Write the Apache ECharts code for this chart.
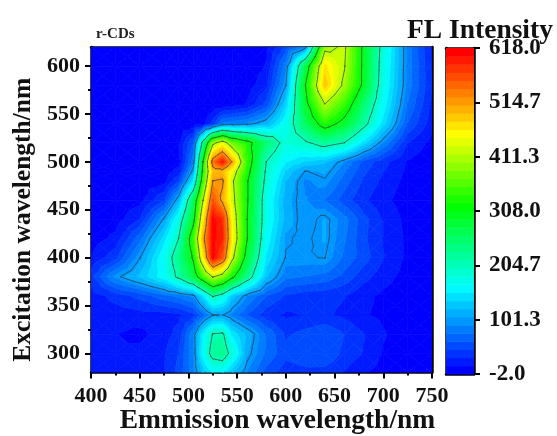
<!DOCTYPE html>
<html>
<head>
<meta charset="utf-8">
<style>html,body{margin:0;background:#fff}#main{width:557px;height:436px}</style>
<script src="https://cdn.jsdelivr.net/npm/echarts@6/dist/echarts.min.js"></script>
</head>
<body>
<div id="main"></div>
<script>
// values
const emission = [400,425,450,475,490,505,515,525,535,545,560,580,600,620,640,660,680,700,725,750]
const excitation = [280,300,320,340,360,380,400,420,440,460,480,490,500,520,540,560,580,600,620]
const intensity = [
  [15,20,22,28,50,85,125,155,155,125,90,55,35,40,38,28,15,8,3,1],
  [15,14,18,28,45,88,165,225,235,185,110,72,50,55,60,40,28,12,4,2],
  [15,14,9,22,35,90,155,207,212,150,118,75,42,50,58,45,30,15,5,2],
  [18,20,22,22,25,40,70,100,102,85,60,35,26,30,32,25,15,10,4,2],
  [20,35,50,70,80,95,145,210,185,130,92,60,42,36,34,30,18,10,4,2],
  [40,95,125,165,215,275,350,415,385,320,235,125,80,75,70,55,35,20,7,2],
  [15,40,100,170,235,315,460,610,560,425,285,150,100,100,102,72,52,30,10,3],
  [5,18,70,145,205,345,500,610,590,460,312,165,103,98,108,78,48,28,10,3],
  [2,5,30,105,175,290,460,610,585,450,310,175,115,92,108,82,50,28,8,3],
  [1,3,8,45,115,260,411,560,505,430,315,175,112,92,75,52,32,18,5,2],
  [0,1,3,8,45,150,345,515,520,420,315,190,122,88,98,68,42,25,8,2],
  [0,0,1,5,20,110,325,490,495,445,330,197,135,100,110,78,48,30,10,3],
  [0,0,1,4,8,85,310,540,600,510,345,204,155,135,125,90,55,35,12,3],
  [0,0,0,5,12,60,225,395,440,375,330,250,185,198,225,205,145,90,30,8],
  [0,0,0,0,1,2,8,35,80,85,92,115,170,260,335,290,220,145,60,20],
  [0,0,0,0,0,0,0,0,3,6,15,50,135,290,410,345,250,165,75,25],
  [0,0,0,0,0,0,0,0,0,2,5,25,101,308,490,400,295,175,85,30],
  [0,0,0,0,0,0,0,0,0,0,2,15,85,270,470,415,295,180,85,28],
  [0,0,0,0,0,0,0,0,0,0,1,10,50,90,395,420,295,185,85,25]
]
const xTicks = [400,450,500,550,600,650,700,750]
const xMinorTicks = [425,475,525,575,625,675,725]
const yTicks = [300,350,400,450,500,550,600]
const yMinorTicks = [325,375,425,475,525,575]
const colorTicks = [-2,101.3,204.7,308,411.3,514.7,618]
const contourLevels = [101.3,204.7,308,411.3,514.7]
const bandCount = 40
const valueMin = -2
const valueMax = 618
const ramp = [[0,0,255],[0,255,255],[0,255,0],[255,255,0],[255,0,0]]
const rampStops = [-2,160,318,458,618]

const serif = '"Liberation Serif"'
const bandSize = (valueMax - valueMin) / bandCount

function bandColor(k) {
  let v = valueMin + k / (bandCount - 1) * (valueMax - valueMin)
  let i = 0
  while (i < rampStops.length - 2 && v > rampStops[i + 1]) i++
  let t = (v - rampStops[i]) / (rampStops[i + 1] - rampStops[i])
  let c = ramp[i].map((a, n) => Math.round(a + (ramp[i + 1][n] - a) * t))
  return 'rgb(' + c.join(',') + ')'
}

// cut a polygon [[x,y,v],...] to the part on one side of a level
function clip(poly, level, keepAbove) {
  let out = []
  for (let i = 0; i < poly.length; i++) {
    let a = poly[i], b = poly[(i + 1) % poly.length]
    let ain = keepAbove ? a[2] >= level : a[2] <= level
    let bin = keepAbove ? b[2] >= level : b[2] <= level
    if (ain) out.push(a)
    if (ain !== bin) {
      let t = (level - a[2]) / (b[2] - a[2])
      out.push([a[0] + (b[0] - a[0]) * t, a[1] + (b[1] - a[1]) * t, level])
    }
  }
  return out
}

// one cell as four triangles around its mean value
function cellTriangles(i, j, api) {
  let corner = (m, n) => {
    let p = api.coord([emission[m], excitation[n]])
    return [p[0], p[1], intensity[n][m]]
  }
  let a = corner(i, j), b = corner(i + 1, j), c = corner(i + 1, j + 1), d = corner(i, j + 1)
  let mid = [(a[0] + c[0]) / 2, (a[1] + c[1]) / 2, (a[2] + b[2] + c[2] + d[2]) / 4]
  return [[a, b, mid], [b, c, mid], [c, d, mid], [d, a, mid]]
}

function renderBands(params, api) {
  let tris = cellTriangles(api.value(2), api.value(3), api)
  let children = []
  tris.forEach(tri => {
    let vals = tri.map(p => p[2])
    let lo = Math.min.apply(null, vals), hi = Math.max.apply(null, vals)
    for (let k = 0; k < bandCount; k++) {
      let bottom = valueMin + k * bandSize, top = bottom + bandSize
      if (hi < bottom || lo > top) continue
      let poly = clip(clip(tri, bottom, true), top, false)
      if (poly.length < 3) continue
      let color = bandColor(k)
      children.push({
        type: 'polygon',
        silent: true,
        shape: { points: poly.map(p => [p[0], p[1]]) },
        style: { fill: color, stroke: color, lineWidth: 0.7 }
      })
    }
  })
  return { type: 'group', children: children }
}

function renderLines(params, api) {
  let tris = cellTriangles(api.value(2), api.value(3), api)
  let children = []
  tris.forEach(tri => {
    contourLevels.forEach(level => {
      let pts = []
      for (let i = 0; i < 3; i++) {
        let a = tri[i], b = tri[(i + 1) % 3]
        if ((a[2] < level) !== (b[2] < level)) {
          let t = (level - a[2]) / (b[2] - a[2])
          pts.push([a[0] + (b[0] - a[0]) * t, a[1] + (b[1] - a[1]) * t])
        }
      }
      if (pts.length === 2) {
        children.push({
          type: 'line',
          silent: true,
          shape: { x1: pts[0][0], y1: pts[0][1], x2: pts[1][0], y2: pts[1][1] },
          style: { stroke: 'rgba(50,60,60,0.75)', lineWidth: 0.9, lineCap: 'round' }
        })
      }
    })
  })
  return { type: 'group', children: children }
}

function renderColorBand(params, api) {
  let k = api.value(0)
  let p0 = api.coord([0, valueMin + k * bandSize])
  let p1 = api.coord([1, valueMin + (k + 1) * bandSize])
  return {
    type: 'rect',
    silent: true,
    shape: { x: p0[0], y: p1[1], width: p1[0] - p0[0], height: p0[1] - p1[1] + 0.5 },
    style: { fill: bandColor(k) }
  }
}

let cells = []
for (let j = 0; j < excitation.length - 1; j++) {
  for (let i = 0; i < emission.length - 1; i++) {
    cells.push([emission[i], excitation[j], i, j])
  }
}
let bands = []
for (let k = 0; k < bandCount; k++) bands.push([k])

const blackLine = { show: true, onZero: false, lineStyle: { color: '#000', width: 2.5 } }
const tickLabel = { fontFamily: serif, fontWeight: 'bold', fontSize: 22, color: '#111' }

let chart = echarts.init(document.getElementById('main'), null, { renderer: 'canvas' })
chart.setOption({
  backgroundColor: '#fff',
  animation: false,
  title: [
    { text: 'r-CDs', left: 91, top: 22, textStyle: { fontFamily: serif, fontWeight: 'bold', fontSize: 15, color: '#222' } },
    { text: 'FL Intensity', left: 402, top: 12, textStyle: { fontFamily: serif, fontWeight: 'bold', fontSize: 27.5, color: '#111' } }
  ],
  grid: [
    { left: 91, right: 125, top: 47, bottom: 63.5, outerBoundsMode: 'none' },
    { left: 446, width: 28, top: 48, bottom: 62, outerBoundsMode: 'none' }
  ],
  xAxis: [
    {
      gridIndex: 0, type: 'value', min: 400, max: 750, position: 'bottom',
      name: 'Emmission wavelength/nm', nameLocation: 'middle', nameGap: 34, nameMoveOverlap: false,
      nameTextStyle: { fontFamily: serif, fontWeight: 'bold', fontSize: 27.5, color: '#111', padding: [0, 0, 0, 32] },
      axisLine: blackLine,
      axisTick: { show: true, customValues: xTicks, length: 6, lineStyle: { color: '#000', width: 2 } },
      axisLabel: Object.assign({ customValues: xTicks, margin: 13, showMinLabel: true, showMaxLabel: true, hideOverlap: false }, tickLabel),
      splitLine: { show: false }
    },
    {
      gridIndex: 0, type: 'value', min: 400, max: 750, position: 'bottom',
      axisLine: { show: false },
      axisTick: { show: true, customValues: xMinorTicks, length: 3, lineStyle: { color: '#000', width: 2 } },
      axisLabel: { show: false }, splitLine: { show: false }
    },
    {
      gridIndex: 0, type: 'value', min: 400, max: 750, position: 'top',
      axisLine: blackLine, axisTick: { show: false }, axisLabel: { show: false }, splitLine: { show: false }
    },
    {
      gridIndex: 1, type: 'value', min: 0, max: 1, position: 'top',
      axisLine: blackLine, axisTick: { show: false }, axisLabel: { show: false }, splitLine: { show: false }
    },
    {
      gridIndex: 1, type: 'value', min: 0, max: 1, position: 'bottom',
      axisLine: blackLine, axisTick: { show: false }, axisLabel: { show: false }, splitLine: { show: false }
    }
  ],
  yAxis: [
    {
      gridIndex: 0, type: 'value', min: 280, max: 620, position: 'left',
      name: 'Excitation wavelength/nm', nameLocation: 'middle', nameGap: 53,
      nameTextStyle: { fontFamily: serif, fontWeight: 'bold', fontSize: 25.5, color: '#111', padding: [0, 20, 0, 0] },
      axisLine: blackLine,
      axisTick: { show: true, customValues: yTicks, length: 6, lineStyle: { color: '#000', width: 2 } },
      axisLabel: Object.assign({ customValues: yTicks, margin: 11, hideOverlap: false }, tickLabel),
      splitLine: { show: false }
    },
    {
      gridIndex: 0, type: 'value', min: 280, max: 620, position: 'left',
      axisLine: { show: false },
      axisTick: { show: true, customValues: yMinorTicks, length: 3, lineStyle: { color: '#000', width: 2 } },
      axisLabel: { show: false }, splitLine: { show: false }
    },
    {
      gridIndex: 0, type: 'value', min: 280, max: 620, position: 'right',
      axisLine: blackLine, axisTick: { show: false }, axisLabel: { show: false }, splitLine: { show: false }
    },
    {
      gridIndex: 1, type: 'value', min: valueMin, max: valueMax, position: 'right',
      axisLine: blackLine,
      axisTick: { show: true, customValues: colorTicks, length: 6, lineStyle: { color: '#000', width: 2 } },
      axisLabel: Object.assign({ customValues: colorTicks, margin: 15, hideOverlap: false, formatter: v => v.toFixed(1) }, tickLabel, { fontSize: 23 }),
      splitLine: { show: false }
    },
    {
      gridIndex: 1, type: 'value', min: valueMin, max: valueMax, position: 'left',
      axisLine: blackLine, axisTick: { show: false }, axisLabel: { show: false }, splitLine: { show: false }
    }
  ],
  series: [
    {
      type: 'custom', xAxisIndex: 0, yAxisIndex: 0, z: 1, silent: true, clip: true,
      encode: { x: 0, y: 1 }, data: cells, renderItem: renderBands
    },
    {
      type: 'custom', xAxisIndex: 0, yAxisIndex: 0, z: 2, silent: true, clip: true,
      encode: { x: 0, y: 1 }, data: cells, renderItem: renderLines
    },
    {
      type: 'custom', xAxisIndex: 3, yAxisIndex: 3, z: 1, silent: true,
      encode: { y: 0 }, data: bands, renderItem: renderColorBand
    }
  ]
})
</script>
</body>
</html>
